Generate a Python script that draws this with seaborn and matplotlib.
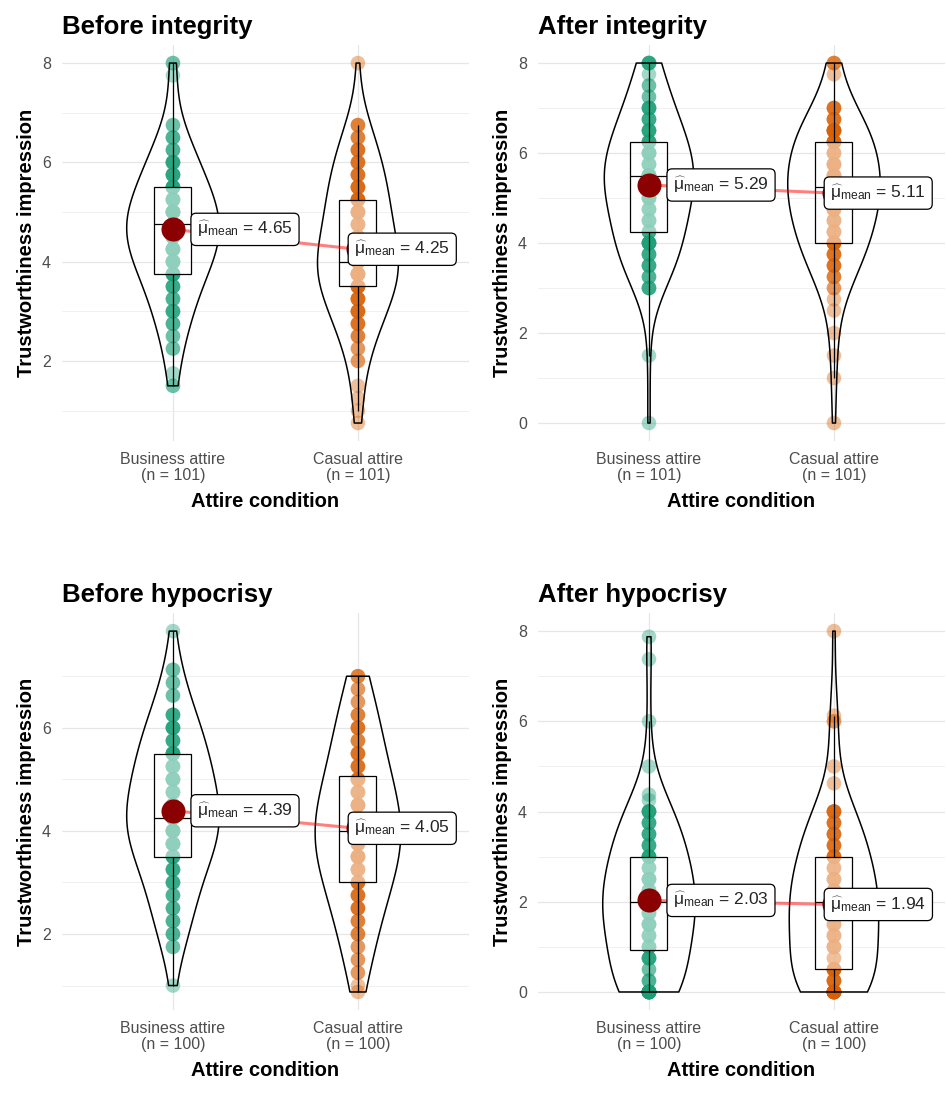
import numpy as np
import pandas as pd
import matplotlib
matplotlib.use("Agg")
import matplotlib.pyplot as plt
import seaborn as sns

sns.set_style("white")
plt.rcParams["font.family"] = ["Liberation Sans", "DejaVu Sans"]
plt.rcParams["mathtext.fontset"] = "custom"
plt.rcParams["mathtext.rm"] = "Liberation Sans"
plt.rcParams["mathtext.it"] = "Liberation Sans:italic"

conditions = ["Business attire", "Casual attire"]
titles = ["Before integrity", "After integrity", "Before hypocrisy", "After hypocrisy"]

# score values seen on each strip, and roughly how many points sit on each
bi_bus_vals = [8, 7.75, 6.75, 6.5, 6.25, 6, 5.75, 5.5, 5.25, 5, 4.75, 4.5, 4.25, 4, 3.75, 3.5, 3.25, 3, 2.75, 2.5, 2.25, 1.75, 1.5]
bi_bus_counts = [2, 1, 2, 3, 3, 5, 5, 6, 6, 9, 9, 9, 7, 7, 6, 4, 3, 4, 3, 2, 2, 1, 2]
bi_cas_vals = [8, 6.75, 6.5, 6.25, 6, 5.75, 5.5, 5.25, 5, 4.75, 4.5, 4.25, 4, 3.75, 3.5, 3.25, 3, 2.75, 2.5, 2.25, 2, 1.5, 1.25, 1, 0.75]
bi_cas_counts = [1, 3, 3, 4, 4, 4, 5, 6, 6, 5, 4, 5, 12, 8, 6, 5, 5, 4, 3, 2, 2, 1, 1, 1, 1]

ai_bus_vals = [8, 7.75, 7.5, 7.25, 7, 6.75, 6.5, 6.25, 6, 5.75, 5.5, 5.25, 5, 4.75, 4.5, 4.25, 4, 3.75, 3.5, 3.25, 3, 1.5, 0]
ai_bus_counts = [5, 1, 2, 2, 5, 4, 5, 5, 7, 5, 10, 6, 6, 5, 5, 4, 7, 4, 4, 3, 4, 1, 1]
ai_cas_vals = [8, 7.75, 7, 6.75, 6.5, 6.25, 6, 5.75, 5.5, 5.25, 5, 4.75, 4.5, 4.25, 4, 3.75, 3.5, 3.25, 3, 2.75, 2.5, 2, 1.5, 1, 0]
ai_cas_counts = [3, 1, 4, 4, 8, 6, 5, 6, 7, 8, 7, 6, 5, 5, 7, 4, 4, 3, 2, 1, 1, 1, 1, 1, 1]

bh_bus_vals = [7.875, 7.125, 6.875, 6.625, 6.25, 6, 5.75, 5.5, 5.25, 5, 4.75, 4.5, 4.25, 4, 3.75, 3.5, 3.25, 3, 2.75, 2.5, 2.25, 2, 1.75, 1]
bh_bus_counts = [1, 2, 2, 2, 4, 5, 4, 6, 5, 6, 5, 7, 8, 8, 7, 5, 4, 4, 3, 3, 3, 3, 2, 1]
bh_cas_vals = [7, 6.75, 6.5, 6.25, 6, 5.75, 5.5, 5.25, 5, 4.75, 4.5, 4.25, 4, 3.75, 3.5, 3.25, 3, 2.75, 2.5, 2.25, 2, 1.75, 1.5, 1.25, 1, 0.875]
bh_cas_counts = [3, 2, 2, 3, 4, 3, 4, 4, 5, 5, 6, 6, 8, 6, 7, 5, 5, 4, 4, 3, 3, 2, 2, 2, 1, 1]

ah_bus_vals = [7.875, 7.375, 6, 5, 4.375, 4.25, 4, 3.75, 3.5, 3.25, 3, 2.75, 2.5, 2.25, 2, 1.75, 1.5, 1.25, 1, 0.75, 0.5, 0.25, 0]
ah_bus_counts = [1, 1, 1, 1, 1, 1, 6, 4, 4, 4, 6, 4, 6, 5, 9, 5, 6, 5, 5, 5, 2, 3, 15]
ah_cas_vals = [8, 6.125, 6, 5, 4.625, 4, 3.75, 3.5, 3.25, 3, 2.75, 2.5, 2.25, 2, 1.75, 1.5, 1.25, 1, 0.75, 0.5, 0.25, 0]
ah_cas_counts = [1, 1, 2, 1, 1, 5, 4, 4, 4, 5, 4, 5, 5, 9, 5, 5, 5, 5, 3, 7, 5, 14]

# group means as printed on the labels
bi_means = [4.65, 4.25]
ai_means = [5.29, 5.11]
bh_means = [4.39, 4.05]
ah_means = [2.03, 1.94]

panels = [
    (bi_bus_vals, bi_bus_counts, bi_cas_vals, bi_cas_counts, bi_means),
    (ai_bus_vals, ai_bus_counts, ai_cas_vals, ai_cas_counts, ai_means),
    (bh_bus_vals, bh_bus_counts, bh_cas_vals, bh_cas_counts, bh_means),
    (ah_bus_vals, ah_bus_counts, ah_cas_vals, ah_cas_counts, ah_means),
]

pal = sns.color_palette("Dark2", 2)

fig = plt.figure(figsize=(9.46, 11.07), dpi=100)
boxes = [
    [0.0655, 0.6016, 0.4302, 0.3577],
    [0.5687, 0.6016, 0.4302, 0.3577],
    [0.0655, 0.0876, 0.4302, 0.3586],
    [0.5687, 0.0876, 0.4302, 0.3586],
]

for i, (bv, bc, cv, cc, means) in enumerate(panels):
    ax = fig.add_axes(boxes[i])
    df = pd.DataFrame({
        "condition": [conditions[0]] * sum(bc) + [conditions[1]] * sum(cc),
        "score": np.concatenate([np.repeat(bv, bc), np.repeat(cv, cc)]),
    })

    sns.stripplot(data=df, x="condition", y="score", hue="condition", order=conditions,
                  hue_order=conditions, palette=pal, jitter=False, size=10.5, alpha=0.4,
                  linewidth=0, legend=False, ax=ax, zorder=1)
    sns.boxplot(data=df, x="condition", y="score", order=conditions, width=0.2,
                showfliers=False, showcaps=False, color="white", linecolor="black",
                linewidth=0.9, boxprops=dict(facecolor=(1, 1, 1, 0.5), zorder=2),
                whiskerprops=dict(zorder=2), medianprops=dict(zorder=2), ax=ax)
    sns.violinplot(data=df, x="condition", y="score", order=conditions, fill=False,
                   color="black", inner=None, cut=0, width=0.5, linewidth=1.1,
                   bw_adjust=1.2, density_norm="area", ax=ax, zorder=3)

    xs = np.arange(len(conditions))
    ax.plot(xs, means, color="red", alpha=0.5, lw=2.2, zorder=4)
    ax.scatter(xs, means, s=300, color="darkred", zorder=5, linewidths=0)
    for x, m, dx in zip(xs, means, [0.13, -0.02]):
        ax.text(x + dx, m, r"$\widehat{\mathrm{\mu}}_{\mathrm{mean}}$" + f" = {m:.2f}",
                ha="left", va="center", fontsize=12.5, zorder=6,
                bbox=dict(boxstyle="round,pad=0.35,rounding_size=0.3", fc="white",
                          ec="black", lw=0.9))

    lo = df["score"].min()
    hi = df["score"].max()
    rng = hi - lo
    ax.set_ylim(lo - 0.05 * rng, hi + 0.05 * rng)
    ax.set_xlim(-0.6, 1.6)
    ax.set_yticks([t for t in range(0, 9, 2) if lo <= t <= hi])
    ax.set_yticks([t for t in range(1, 9, 2) if lo - 0.3 <= t <= hi + 0.3], minor=True)
    ax.set_xticks(xs)
    ns = [sum(bc), sum(cc)]
    ax.set_xticklabels([f"{c}\n(n = {n})" for c, n in zip(conditions, ns)],
                       linespacing=1.05)

    ax.grid(which="major", color="#E6E6E6", lw=0.9)
    ax.grid(which="minor", axis="y", color="#F0F0F0", lw=0.7)
    ax.set_axisbelow(True)
    for s in ax.spines.values():
        s.set_visible(False)
    ax.tick_params(axis="x", which="major", pad=5)
    ax.tick_params(which="major", length=3, color="#333333", labelcolor="#4D4D4D",
                   labelsize=11.5)
    ax.tick_params(axis="y", which="major", pad=5)
    ax.tick_params(which="minor", length=0)

    ax.set_title(titles[i], loc="left", fontsize=18.5, fontweight="bold", pad=8,
                 color="black")
    ax.set_xlabel("Attire condition", fontsize=14.5, fontweight="bold", labelpad=7,
                  color="black")
    ax.set_ylabel("Trustworthiness impression", fontsize=14.5, fontweight="bold",
                  labelpad=4, color="black")

fig.savefig("out.png", dpi=100, facecolor="white")
